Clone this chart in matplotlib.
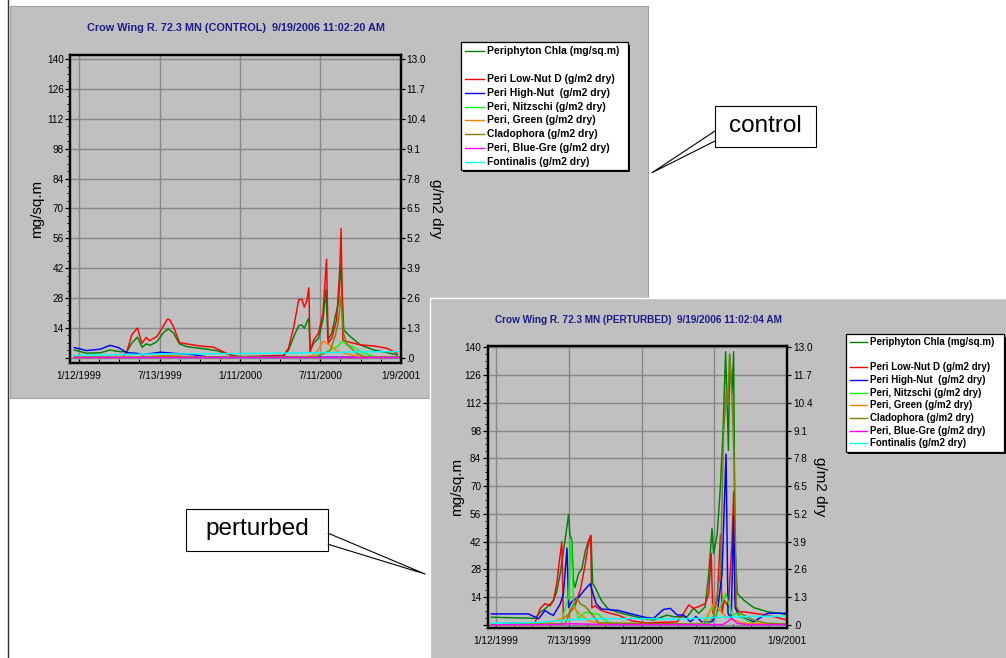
import numpy as np
import matplotlib
matplotlib.use('Agg')
import matplotlib.pyplot as plt
import matplotlib.dates as mdates
from matplotlib.patches import Rectangle

plt.rcParams['font.family'] = ['Liberation Sans', 'DejaVu Sans']

W, H = 1006, 658
GRAY = '#c0c0c0'
NAVY = '#1c1c8a'

# ---------------- data ----------------
series_names = ['Periphyton Chla (mg/sq.m)', 'Peri Low-Nut D (g/m2 dry)', 'Peri High-Nut  (g/m2 dry)',
                'Peri, Nitzschi (g/m2 dry)', 'Peri, Green (g/m2 dry)', 'Cladophora (g/m2 dry)',
                'Peri, Blue-Gre (g/m2 dry)', 'Fontinalis (g/m2 dry)']
series_colors = ['#008000', '#ff0000', '#0000ff', '#00ff00', '#ff8000', '#808000', '#ff00ff', '#00ffff']

x_tick_dates = ['1999-01-12', '1999-07-13', '2000-01-11', '2000-07-11', '2001-01-09']
x_tick_labels = ['1/12/1999', '7/13/1999', '1/11/2000', '7/11/2000', '1/9/2001']
left_ticks = [0, 14, 28, 42, 56, 70, 84, 98, 112, 126, 140]
left_labels = ['', '14', '28', '42', '56', '70', '84', '98', '112', '126', '140']
right_ticks = [0, 1.3, 2.6, 3.9, 5.2, 6.5, 7.8, 9.1, 10.4, 11.7, 13.0]
right_labels = ['.0', '1.3', '2.6', '3.9', '5.2', '6.5', '7.8', '9.1', '10.4', '11.7', '13.0']

# ---- control run ----
ctl_chla_d = ['1999-01-01', '1999-01-29', '1999-03-01', '1999-03-23', '1999-04-15', '1999-04-30', '1999-05-11',
              '1999-05-24', '1999-06-04', '1999-06-13', '1999-06-22', '1999-07-07', '1999-07-22', '1999-08-02',
              '1999-08-14', '1999-08-27', '1999-09-13', '1999-10-13', '1999-11-20', '1999-12-20', '2000-01-12',
              '2000-03-27', '2000-04-19', '2000-04-30', '2000-05-12', '2000-05-23', '2000-05-30', '2000-06-05',
              '2000-06-11', '2000-06-15', '2000-06-18', '2000-06-26', '2000-07-07', '2000-07-17', '2000-07-24',
              '2000-07-28', '2000-08-06', '2000-08-14', '2000-08-21', '2000-08-27', '2000-09-02', '2000-09-17',
              '2000-10-10', '2000-11-09', '2000-12-09', '2001-01-01']
ctl_chla_v = [3.6, 2.1, 2.3, 3.6, 2.8, 2.8, 6.8, 9.6, 4.9, 6.5, 5.8, 7.5, 11.8, 13.5, 11.5, 6.5, 5.2, 4.4, 3.3,
              1.3, 0.5, 0.3, 0.8, 3.6, 9.9, 15.0, 15.4, 13.8, 17.0, 18.6, 3.3, 6.8, 9.1, 17.8, 32.0, 8.3, 11.5,
              19.3, 25.6, 44.0, 13.0, 9.9, 6.0, 3.6, 2.4, 1.3]

ctl_low_d = ['1999-01-01', '1999-04-20', '1999-04-30', '1999-05-11', '1999-05-24', '1999-06-03', '1999-06-13',
             '1999-06-20', '1999-07-07', '1999-07-22', '1999-07-31', '1999-08-05', '1999-08-14', '1999-08-27',
             '1999-09-13', '1999-10-13', '1999-11-12', '1999-12-12', '2000-01-04', '2000-04-19', '2000-04-30',
             '2000-05-12', '2000-05-23', '2000-05-30', '2000-06-05', '2000-06-11', '2000-06-15', '2000-06-18',
             '2000-06-26', '2000-07-07', '2000-07-17', '2000-07-25', '2000-07-29', '2000-08-06', '2000-08-17',
             '2000-08-24', '2000-08-27', '2000-08-31', '2000-09-09', '2000-10-10', '2000-11-09', '2000-12-09',
             '2001-01-01']
ctl_low_v = [0.02, 0.02, 0.26, 0.99, 1.29, 0.63, 0.88, 0.74, 0.92, 1.39, 1.68, 1.65, 1.33, 0.66, 0.60, 0.51,
             0.46, 0.19, 0.04, 0.10, 0.41, 1.36, 2.52, 2.55, 2.20, 2.52, 3.04, 0.26, 0.77, 1.07, 1.94, 4.28,
             0.63, 0.85, 1.65, 3.84, 5.62, 0.77, 0.70, 0.56, 0.51, 0.41, 0.19]

ctl_high_d = ['1999-01-01', '1999-01-29', '1999-03-01', '1999-03-23', '1999-04-11', '1999-04-30', '1999-05-23',
              '1999-06-04', '1999-07-15', '1999-08-14', '1999-09-28', '1999-10-28', '2000-01-12', '2000-03-01',
              '2000-04-20', '2000-05-01', '2001-01-09']
ctl_high_v = [0.44, 0.31, 0.37, 0.54, 0.44, 0.22, 0.19, 0.13, 0.24, 0.19, 0.13, 0.04, 0.02, 0.05, 0.05, 0.02,
              0.02]

ctl_nitz_d = ['1999-01-01', '1999-06-01', '1999-07-20', '1999-09-01', '1999-11-01', '2000-06-25', '2000-07-20',
              '2000-08-20', '2000-08-30', '2000-09-10', '2000-09-20', '2000-10-10', '2000-11-10', '2001-01-09']
ctl_nitz_v = [0.02, 0.02, 0.06, 0.04, 0.02, 0.02, 0.20, 0.50, 0.73, 0.55, 0.50, 0.26, 0.04, 0.02]

ctl_green_d = ['1999-01-01', '1999-06-01', '1999-07-15', '1999-08-10', '1999-09-10', '1999-10-15', '2000-06-01',
               '2000-06-25', '2000-07-05', '2000-07-18', '2000-07-28', '2000-08-17', '2000-09-09', '2000-10-10',
               '2001-01-09']
ctl_green_v = [0.01, 0.02, 0.08, 0.10, 0.05, 0.02, 0.02, 0.10, 0.30, 0.72, 0.60, 0.30, 0.17, 0.04, 0.02]

ctl_clad_d = ['1999-01-01', '1999-06-01', '1999-08-01', '1999-09-15', '1999-11-01', '2000-07-01', '2000-08-02',
              '2000-08-14', '2000-08-21', '2000-08-27', '2000-09-01', '2000-09-09', '2000-09-30', '2000-10-20',
              '2001-01-09']
ctl_clad_v = [0.01, 0.02, 0.06, 0.03, 0.01, 0.04, 0.30, 0.96, 1.60, 2.70, 1.10, 0.60, 0.20, 0.04, 0.02]

ctl_bg_d = ['1999-01-01', '2001-01-09']
ctl_bg_v = [0.01, 0.01]

ctl_font_d = ['1999-01-01', '1999-07-01', '2000-01-12', '2000-07-11', '2000-10-01', '2001-01-09']
ctl_font_v = [0.10, 0.16, 0.18, 0.22, 0.25, 0.27]

# ---- perturbed run ----
per_chla_d = ['1999-01-01', '1999-04-20', '1999-05-03', '1999-05-15', '1999-05-28', '1999-06-05', '1999-06-13',
              '1999-06-22', '1999-07-04', '1999-07-13', '1999-07-16', '1999-07-21', '1999-07-25', '1999-07-29',
              '1999-08-07', '1999-08-15', '1999-08-24', '1999-09-01', '1999-09-07', '1999-09-11', '1999-09-17',
              '1999-10-03', '1999-10-20', '1999-11-14', '1999-12-17', '2000-01-20', '2000-02-10', '2000-03-15',
              '2000-03-31', '2000-05-04', '2000-05-20', '2000-06-02', '2000-06-18', '2000-06-27', '2000-07-05',
              '2000-07-09', '2000-07-18', '2000-07-26', '2000-08-02', '2000-08-08', '2000-08-12', '2000-08-15',
              '2000-08-18', '2000-08-24', '2000-08-28', '2000-08-31', '2000-09-06', '2000-09-22', '2000-10-17',
              '2000-11-20', '2000-12-23', '2001-01-09']
per_chla_v = [3.9, 3.4, 6.4, 8.1, 10.6, 12.3, 16.5, 26.0, 42.6, 55.8, 46.0, 42.6, 22.4, 19.0, 26.0, 28.3, 37.6,
              42.6, 45.0, 21.0, 19.0, 12.3, 8.1, 6.4, 4.7, 3.1, 2.5, 5.0, 4.2, 4.2, 8.4, 5.9, 9.2, 26.0, 48.7,
              36.0, 46.0, 69.7, 100.0, 137.8, 110.0, 88.0, 136.0, 117.0, 137.8, 43.0, 16.0, 12.6, 8.8, 6.7, 5.9,
              5.0]

per_low_d = ['1999-01-01', '1999-04-20', '1999-05-03', '1999-05-15', '1999-05-28', '1999-06-05', '1999-06-13',
             '1999-06-22', '1999-06-26', '1999-06-30', '1999-07-13', '1999-07-29', '1999-08-12', '1999-08-24',
             '1999-09-01', '1999-09-06', '1999-09-09', '1999-09-17', '1999-10-01', '1999-10-15', '1999-11-15',
             '1999-12-17', '2000-01-20', '2000-04-09', '2000-04-25', '2000-05-08', '2000-05-20', '2000-06-02',
             '2000-06-18', '2000-06-27', '2000-07-03', '2000-07-07', '2000-07-18', '2000-07-26', '2000-07-30',
             '2000-08-04', '2000-08-15', '2000-08-24', '2000-08-28', '2000-08-31', '2000-09-06', '2000-09-22',
             '2000-10-17', '2000-11-20', '2000-12-23', '2001-01-09']
per_low_v = [0.05, 0.10, 0.78, 1.00, 0.90, 1.15, 1.90, 3.30, 3.90, 0.30, 0.50, 0.90, 1.70, 2.90, 3.90, 4.20,
             0.80, 0.90, 0.70, 0.60, 0.45, 0.20, 0.10, 0.15, 0.55, 0.94, 0.78, 0.86, 1.00, 1.48, 3.36, 0.55,
             1.17, 4.20, 0.55, 1.17, 0.86, 3.98, 6.24, 1.33, 0.62, 0.62, 0.55, 0.47, 0.31, 0.23]

per_high_d = ['1999-01-01', '1999-04-04', '1999-04-29', '1999-05-15', '1999-05-28', '1999-06-05', '1999-06-22',
              '1999-06-30', '1999-07-09', '1999-07-13', '1999-07-21', '1999-08-07', '1999-08-24', '1999-09-05',
              '1999-09-12', '1999-09-20', '1999-10-03', '1999-11-15', '1999-12-17', '2000-01-20', '2000-02-10',
              '2000-03-06', '2000-03-23', '2000-04-09', '2000-04-25', '2000-05-12', '2000-05-26', '2000-06-09',
              '2000-07-05', '2000-07-18', '2000-07-30', '2000-08-09', '2000-08-14', '2000-08-22', '2000-08-28',
              '2000-09-01', '2000-09-12', '2000-10-17', '2000-11-20', '2001-01-09']
per_high_v = [0.52, 0.52, 0.29, 0.68, 0.52, 0.45, 0.99, 1.46, 3.60, 0.83, 1.10, 1.30, 1.69, 1.93, 1.46, 0.99,
              0.75, 0.68, 0.52, 0.36, 0.31, 0.73, 0.78, 0.47, 0.47, 0.15, 0.40, 0.15, 0.15, 0.55, 2.40, 8.00,
              0.55, 0.30, 5.07, 0.80, 0.40, 0.15, 0.55, 0.55]

per_nitz_d = ['1999-01-01', '1999-06-25', '1999-06-30', '1999-07-13', '1999-07-19', '1999-07-25', '1999-08-07',
              '1999-08-24', '1999-09-26', '1999-10-13', '1999-10-29', '2000-06-20', '2000-06-27', '2000-07-05',
              '2000-07-14', '2000-07-26', '2000-08-08', '2000-08-18', '2000-08-24', '2000-09-06', '2000-09-22',
              '2000-10-17', '2001-01-09']
per_nitz_v = [0.05, 0.05, 0.50, 1.30, 4.00, 1.10, 0.30, 0.60, 0.50, 0.20, 0.05, 0.05, 0.55, 0.86, 0.40, 0.86,
              1.48, 0.86, 0.47, 0.55, 0.30, 0.08, 0.05]

per_green_d = ['1999-01-01', '1999-05-15', '1999-06-18', '1999-07-10', '1999-07-24', '1999-08-11', '1999-09-01',
               '1999-10-04', '2000-06-10', '2000-06-27', '2000-07-09', '2000-07-24', '2000-08-08', '2000-08-28',
               '2000-09-22', '2001-01-09']
per_green_v = [0.02, 0.03, 0.25, 0.40, 0.85, 0.50, 0.20, 0.05, 0.03, 0.55, 1.00, 0.70, 0.40, 0.23, 0.08, 0.02]

per_clad_d = ['1999-01-01', '1999-07-04', '1999-07-21', '1999-08-03', '1999-08-11', '1999-08-25', '1999-09-09',
              '1999-09-26', '2000-06-25', '2000-07-09', '2000-07-26', '2000-08-03', '2000-08-10', '2000-08-14',
              '2000-08-18', '2000-08-24', '2000-08-30', '2000-09-04', '2000-09-14', '2000-10-17', '2000-11-20',
              '2001-01-09']
per_clad_v = [0.02, 0.05, 0.80, 1.25, 1.00, 0.85, 0.50, 0.10, 0.03, 0.40, 2.40, 9.00, 11.00, 10.30, 12.70,
              10.60, 7.20, 0.86, 0.55, 0.23, 0.08, 0.05]

per_bg_d = ['1999-01-01', '1999-06-01', '1999-07-15', '1999-09-01', '1999-10-15', '2000-08-01', '2000-08-12',
            '2000-08-24', '2000-09-06', '2000-09-30', '2001-01-09']
per_bg_v = [0.02, 0.02, 0.06, 0.04, 0.02, 0.02, 0.15, 0.31, 0.08, 0.02, 0.02]

per_font_d = ['1999-01-01', '1999-05-01', '1999-07-15', '1999-10-01', '2000-01-11', '2000-04-01', '2000-07-11',
              '2000-10-01', '2001-01-09']
per_font_v = [0.08, 0.12, 0.25, 0.30, 0.30, 0.27, 0.35, 0.40, 0.42]

ctl_series = [(ctl_chla_d, ctl_chla_v), (ctl_low_d, ctl_low_v), (ctl_high_d, ctl_high_v),
              (ctl_nitz_d, ctl_nitz_v), (ctl_green_d, ctl_green_v), (ctl_clad_d, ctl_clad_v),
              (ctl_bg_d, ctl_bg_v), (ctl_font_d, ctl_font_v)]
per_series = [(per_chla_d, per_chla_v), (per_low_d, per_low_v), (per_high_d, per_high_v),
              (per_nitz_d, per_nitz_v), (per_green_d, per_green_v), (per_clad_d, per_clad_v),
              (per_bg_d, per_bg_v), (per_font_d, per_font_v)]

ctl_title = 'Crow Wing R. 72.3 MN (CONTROL)  9/19/2006 11:02:20 AM'
per_title = 'Crow Wing R. 72.3 MN (PERTURBED)  9/19/2006 11:02:04 AM'

# ---------------- figure ----------------
fig = plt.figure(figsize=(W / 100, H / 100), dpi=100)
fig.patch.set_facecolor('white')

bg = fig.add_axes([0, 0, 1, 1])
bg.set_xlim(0, W)
bg.set_ylim(H, 0)
bg.axis('off')

# panels
bg.add_patch(Rectangle((10, 5.7), 638, 392, fc=GRAY, ec='#a0a0a0', lw=0.8))
bg.add_patch(Rectangle((430, 298), 577, 361, fc=GRAY, ec='white', lw=1.0))
bg.plot([8, 8], [0, H], color='#303030', lw=1.0)

# titles
bg.text(236.4, 28.3, ctl_title, color=NAVY, fontsize=7.8, fontweight='bold', ha='center', va='center')
bg.text(638.8, 320, per_title, color=NAVY, fontsize=7.2, fontweight='bold', ha='center', va='center')


def draw_legend(x0, y0, x1, y1, rows, hx0, hx1, tx, fs):
    bg.add_patch(Rectangle((x0 + 2.5, y0 + 2.5), x1 - x0, y1 - y0, fc='black', ec='none', zorder=3))
    bg.add_patch(Rectangle((x0, y0), x1 - x0, y1 - y0, fc='white', ec='black', lw=0.9, zorder=4))
    for name, col, ry in zip(series_names, series_colors, rows):
        bg.plot([hx0, hx1], [ry, ry], color=col, lw=1.0, zorder=5)
        bg.text(tx, ry, name, fontsize=fs, fontweight='bold', ha='left', va='center', zorder=5)


draw_legend(461, 42.3, 627.7, 170, [51, 79, 93, 106.5, 120, 134, 147.7, 161.7], 465, 484.3, 487.3, 7.5)
draw_legend(846, 334, 1004.5, 451.7, [341.7, 366.7, 379.7, 392.7, 404.7, 417.7, 430.7, 442.7], 850, 866.7,
            869.7, 7.0)

# callouts
bg.add_patch(Rectangle((715, 105.7), 100.7, 41.6, fc='white', ec='black', lw=0.8, zorder=4))
bg.text(765.3, 126.5, 'control', fontsize=17.5, ha='center', va='center', zorder=5)
bg.plot([715, 652, 715], [131, 172.7, 141], color='black', lw=0.8, zorder=5)
bg.add_patch(Rectangle((186, 509.3), 142.3, 41.7, fc='white', ec='black', lw=0.8, zorder=4))
bg.text(257, 529.5, 'perturbed', fontsize=17.5, ha='center', va='center', zorder=5)
bg.plot([328.3, 425, 328.3], [533.3, 574, 544.3], color='black', lw=0.8, zorder=5)

XMIN = np.datetime64('1998-12-23')
XMAX = np.datetime64('2001-01-09')


def chart(px, ylo, yhi, series):
    x0, y0, x1, y1 = px
    ax = fig.add_axes([x0 / W, 1 - y1 / H, (x1 - x0) / W, (y1 - y0) / H])
    ax.set_facecolor(GRAY)
    ax2 = ax.twinx()
    for i, ((d, v), col) in enumerate(zip(series, series_colors)):
        dd = np.array(d, dtype='datetime64[D]')
        target = ax if i == 0 else ax2
        target.plot(dd, v, color=col, lw=1.05)
    ax.set_xlim(XMIN, XMAX)
    ax.set_ylim(ylo, yhi)
    ax2.set_ylim(ylo * 13 / 140, yhi * 13 / 140)
    major = np.array(x_tick_dates, dtype='datetime64[D]')
    ax.set_xticks(major)
    ax.set_xticklabels(x_tick_labels)
    mnum = mdates.date2num(major)
    minor = []
    for a, b in zip(mnum[:-1], mnum[1:]):
        minor += list(np.linspace(a, b, 5)[1:-1])
    ax.set_xticks(minor, minor=True)
    ax.set_yticks(left_ticks)
    ax.set_yticklabels(left_labels)
    ax.set_yticks(np.arange(0, 140.1, 3.5), minor=True)
    ax2.set_yticks(right_ticks)
    ax2.set_yticklabels(right_labels)
    ax.grid(True, which='major', color='#878787', lw=1.0)
    ax.tick_params(axis='y', which='major', direction='out', length=3.5, width=0.9, labelsize=7.2, pad=1.2)
    ax.tick_params(axis='y', which='minor', direction='out', length=2, width=0.7)
    ax.tick_params(axis='x', which='major', direction='in', length=3, width=0.9, labelsize=7.2, pad=6)
    ax.tick_params(axis='x', which='minor', direction='in', length=3, width=0.7)
    ax2.tick_params(axis='y', which='major', direction='out', length=3, width=0.9, labelsize=7.2, pad=1.2)
    for a in (ax, ax2):
        for s in a.spines.values():
            s.set_linewidth(1.6)
            s.set_color('black')
    w = x1 - x0
    h = y1 - y0
    return ax, w, h


axc, wc, hc = chart((70.3, 55, 400.7, 362.7), -2.34, 141.9, ctl_series)
axc.text((37 - 70.3) / wc, (362.7 - 209) / hc, 'mg/sq.m', transform=axc.transAxes, rotation=90,
         ha='center', va='center', fontsize=11)
axc.text((436 - 70.3) / wc, (362.7 - 209) / hc, 'g/m2 dry', transform=axc.transAxes, rotation=270,
         ha='center', va='center', fontsize=11)

axp, wp, hp = chart((487.7, 345.7, 787.3, 628), -1.5, 140.8, per_series)
axp.text((457.4 - 487.7) / wp, (628 - 487) / hp, 'mg/sq.m', transform=axp.transAxes, rotation=90,
         ha='center', va='center', fontsize=11)
axp.text((820 - 487.7) / wp, (628 - 487) / hp, 'g/m2 dry', transform=axp.transAxes, rotation=270,
         ha='center', va='center', fontsize=11)

fig.savefig('out.png', dpi=100, facecolor='white')
